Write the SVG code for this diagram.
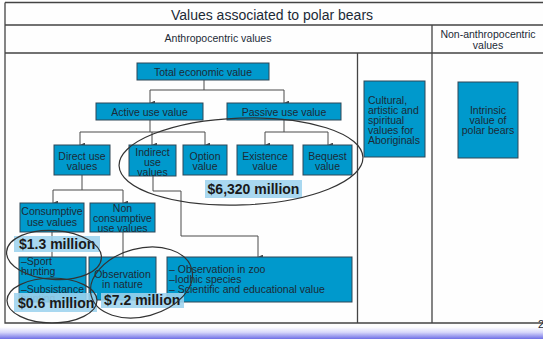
<svg xmlns="http://www.w3.org/2000/svg" width="543" height="339" viewBox="0 0 543 339">
<defs>
<style>
text{font-family:"Liberation Sans",Arial,sans-serif;fill:#1c2a36}
.t{font-size:10.5px}
.c{text-anchor:middle}
.box{fill:#0099cc;stroke:#2e4656;stroke-width:1}
.frame{fill:none;stroke:#444;stroke-width:1.3}
.con{fill:none;stroke:#4a4a4a;stroke-width:1}
.hl{fill:#9dd3ee;opacity:0.88}
.money{font-size:14px;font-weight:bold;fill:#1a1a1a}
.ell{fill:none;stroke:#333;stroke-width:1.2}
</style>
<marker id="ah" viewBox="0 0 6 6" refX="3" refY="6" markerWidth="5" markerHeight="5" orient="auto-start-reverse" markerUnits="userSpaceOnUse">
<path d="M0,0 L3,6 L6,0 Z" fill="#4a4a4a"/>
</marker>
<linearGradient id="band" x1="0" y1="0" x2="0" y2="1">
<stop offset="0" stop-color="#ffffff"/>
<stop offset="0.45" stop-color="#d6d6fa"/>
<stop offset="1" stop-color="#6f6fe6"/>
</linearGradient>
</defs>
<rect width="543" height="339" fill="#fefefe"/>
<rect x="0" y="327" width="543" height="12" fill="url(#band)"/>
<g id="table">
<path class="frame" d="M5,2.5 H543 M5,2.5 V323 H543 M5,25 H543 M5,53 H543 M432,25 V323 M357.5,53 V323"/>
<text x="272" y="19.5" class="c" style="font-size:14px">Values associated to polar bears</text>
<text x="218" y="42" class="c t">Anthropocentric values</text>
<text x="488" y="38" class="c t">Non-anthropocentric</text>
<text x="488" y="48.5" class="c t">values</text>
<text x="538" y="327.5" style="font-size:11px">2</text>
</g>
<g id="connectors">
<path class="con" d="M204,80 V90 M150,90 H284" />
<path class="con" d="M150,90 V103" marker-end="url(#ah)"/>
<path class="con" d="M284,90 V103" marker-end="url(#ah)"/>
<path class="con" d="M150,120 V132 M80,132 H205 M284,120 V132 M265,132 H328"/>
<path class="con" d="M80,132 V145" marker-end="url(#ah)"/>
<path class="con" d="M152,132 V145" marker-end="url(#ah)"/>
<path class="con" d="M205,132 V145" marker-end="url(#ah)"/>
<path class="con" d="M265,132 V145" marker-end="url(#ah)"/>
<path class="con" d="M328,132 V145" marker-end="url(#ah)"/>
<path class="con" d="M82,175 V190 M53,190 H123"/>
<path class="con" d="M53,190 V203" marker-end="url(#ah)"/>
<path class="con" d="M123,190 V203" marker-end="url(#ah)"/>
<path class="con" d="M153,176 V191 H181 V236 H258 V257" marker-end="url(#ah)"/>
<path class="con" d="M52,232 V257 M123,232 V257"/>
</g>
<g id="total"><rect class="box" x="137" y="63" width="132" height="17"/><text x="203" y="75.5" class="c t">Total economic value</text></g>
<g id="active"><rect class="box" x="96" y="103" width="107" height="17"/><text x="149.5" y="115.5" class="c t">Active use value</text></g>
<g id="passive"><rect class="box" x="227" y="103" width="114" height="17"/><text x="284" y="115.5" class="c t">Passive use value</text></g>
<g id="direct"><rect class="box" x="54" y="145" width="56" height="30"/><text x="82" y="159.5" class="c t">Direct use</text><text x="82" y="169.5" class="c t">values</text></g>
<g id="indirect"><rect class="box" x="129" y="145" width="47" height="31"/><text x="152.5" y="155.5" class="c t">Indirect</text><text x="152.5" y="165.5" class="c t">use</text><text x="152.5" y="175.5" class="c t">values</text></g>
<g id="option"><rect class="box" x="183" y="145" width="44" height="30"/><text x="205" y="159.5" class="c t">Option</text><text x="205" y="169.5" class="c t">value</text></g>
<g id="existence"><rect class="box" x="237" y="145" width="56" height="30"/><text x="265" y="159.5" class="c t">Existence</text><text x="265" y="169.5" class="c t">value</text></g>
<g id="bequest"><rect class="box" x="303" y="145" width="49" height="30"/><text x="327.5" y="159.5" class="c t">Bequest</text><text x="327.5" y="169.5" class="c t">value</text></g>
<g id="consumptive"><rect class="box" x="20" y="203" width="64" height="29"/><text x="52" y="215" class="c t">Consumptive</text><text x="52" y="225.5" class="c t">use values</text></g>
<g id="nonconsumptive"><rect class="box" x="90" y="203" width="65" height="29"/><text x="122.5" y="211.5" class="c t">Non</text><text x="122.5" y="221.5" class="c t">consumptive</text><text x="122.5" y="231.5" class="c t">use values</text></g>
<g id="hunting"><rect class="box" x="19" y="257" width="67" height="45"/><text x="21" y="264.5" class="t">–Sport</text><text x="21" y="274.5" class="t">hunting</text><text x="21" y="292.5" class="t">–Subsistance</text><text x="21" y="302" class="t">hunting</text></g>
<g id="nature"><rect class="box" x="89" y="257" width="67" height="43"/><text x="122.5" y="277.5" class="c t">Observation</text><text x="122.5" y="287.5" class="c t">in nature</text></g>
<g id="zoo"><rect class="box" x="167" y="257" width="185" height="45"/><text x="169" y="272.5" class="t">– Observation in zoo</text><text x="169" y="282.5" class="t">–Iodhic species</text><text x="169" y="292.5" class="t">– Scientific and educational value</text></g>
<g id="cultural"><rect class="box" x="364" y="81" width="61" height="76"/><text x="368" y="104" class="t">Cultural,</text><text x="368" y="114" class="t">artistic and</text><text x="368" y="124" class="t">spiritual</text><text x="368" y="134" class="t">values for</text><text x="368" y="144" class="t">Aboriginals</text></g>
<g id="intrinsic"><rect class="box" x="458" y="82" width="60" height="76"/><text x="488" y="113.5" class="c t">Intrinsic</text><text x="488" y="123.5" class="c t">value of</text><text x="488" y="133.5" class="c t">polar bears</text></g>
<g id="money6320"><rect class="hl" x="205" y="180" width="97" height="18"/><text x="253.5" y="194" class="c money">$6,320 million</text></g>
<g id="money13"><rect class="hl" x="14" y="236" width="86" height="16"/><text x="19" y="249" class="money">$1.3 million</text></g>
<g id="money06"><rect class="hl" x="14" y="293" width="83" height="19"/><text x="18" y="307.5" class="money">$0.6 million</text></g>
<g id="money72"><rect class="hl" x="101" y="293" width="83" height="15"/><text x="104" y="305" class="money">$7.2 million</text></g>
<g id="ellipses">
<ellipse class="ell" cx="241" cy="161.5" rx="122" ry="43.5" transform="rotate(-2 241 161.5)"/>
<ellipse class="ell" cx="54" cy="255" rx="47.5" ry="24.5" transform="rotate(4 54 255)"/>
<ellipse class="ell" cx="52" cy="300.5" rx="45" ry="22.5"/>
<ellipse class="ell" cx="141.5" cy="282.5" rx="52" ry="34" transform="rotate(-15 141.5 282.5)"/>
</g>
</svg>
